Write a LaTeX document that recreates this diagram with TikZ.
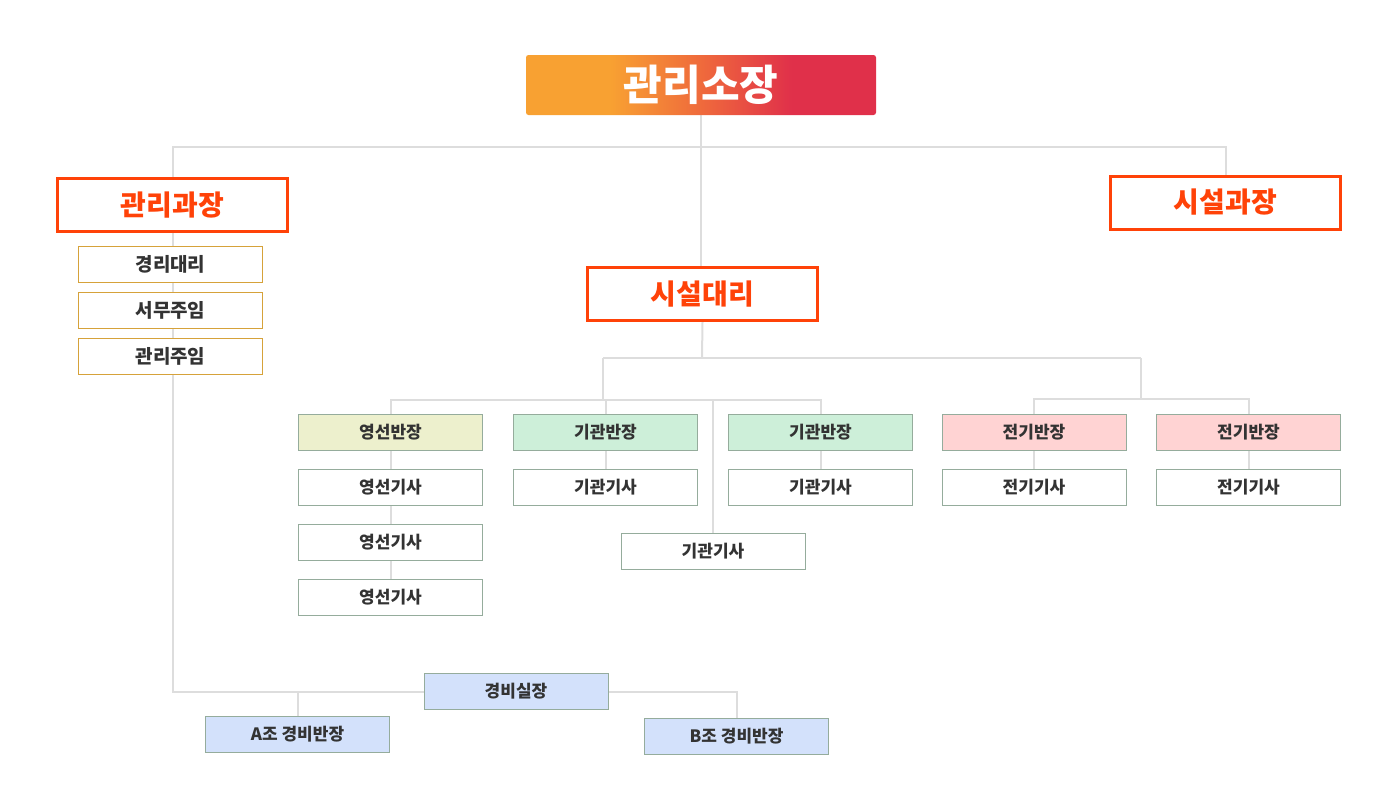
\documentclass[tikz,border=0pt]{standalone}
\usepackage{fontspec}
\setmainfont{Noto Sans CJK KR}
\usetikzlibrary{backgrounds}
\definecolor{gOrange}{HTML}{F8A132}
\definecolor{gMid}{HTML}{EF6A3C}
\definecolor{gRed}{HTML}{E0304A}
\definecolor{hdRed}{HTML}{FF4208}
\definecolor{lineGray}{HTML}{DDDDDD}
\definecolor{boxEdge}{HTML}{95AC9C}
\definecolor{goldEdge}{HTML}{D6A23A}
\definecolor{txtDark}{HTML}{333333}
\definecolor{fillYel}{HTML}{EDF0CD}
\definecolor{fillGrn}{HTML}{CDEFD9}
\definecolor{fillPnk}{HTML}{FFD3D3}
\definecolor{fillBlu}{HTML}{D3E1FB}
\pgfdeclarehorizontalshading{titlegrad}{100bp}{color(0bp)=(gOrange); color(37bp)=(gOrange); color(50bp)=(gMid); color(63bp)=(gRed); color(100bp)=(gRed)}
\tikzset{
  titlebox/.style={shading=titlegrad, rounded corners=2.5pt, minimum width=350pt, minimum height=60pt, inner sep=0pt, text=white, font=\fontsize{42}{46}\selectfont\bfseries},
  headbox/.style={draw=hdRed, line width=3pt, fill=white, minimum width=230pt, minimum height=53pt, inner sep=0pt, text=hdRed, font=\fontsize{28}{32}\selectfont\bfseries},
  goldbox/.style={draw=goldEdge, line width=1pt, fill=white, minimum width=184pt, minimum height=36pt, inner sep=0pt, text=txtDark, font=\fontsize{19}{22}\selectfont\bfseries},
  unitbox/.style={draw=boxEdge, line width=1pt, fill=white, minimum width=184pt, minimum height=36pt, inner sep=0pt, text=txtDark, font=\fontsize{17}{20}\selectfont\bfseries},
  link/.style={draw=lineGray, line width=2pt},
  biglink/.style={draw=lineGray, line width=2.5pt}
}
\begin{document}
\begin{tikzpicture}[x=1pt,y=-1pt]
\useasboundingbox (0,0) rectangle (1400,804);
% top
\node[titlebox] (top) at (701,85) {관리소장};
\node[headbox] (gk) at (172.5,205) {관리과장};
\node[headbox] (sk) at (1225.5,202.5) {시설과장};
\node[headbox] (sd) at (702.5,294) {시설대리};
% management column
\node[goldbox] (m1) at (170.5,264.5) {경리대리};
\node[goldbox] (m2) at (170.5,310.5) {서무주임};
\node[goldbox] (m3) at (170.5,356.5) {관리주임};
% facility teams
\node[unitbox, fill=fillYel] (ys) at (390.5,432.5) {영선반장};
\node[unitbox] (yg1) at (390.5,487.5) {영선기사};
\node[unitbox] (yg2) at (390.5,542.5) {영선기사};
\node[unitbox] (yg3) at (390.5,597.5) {영선기사};
\node[unitbox, fill=fillGrn] (kb1) at (605.5,432.5) {기관반장};
\node[unitbox] (kg1) at (605.5,487.5) {기관기사};
\node[unitbox, fill=fillGrn] (kb2) at (820.5,432.5) {기관반장};
\node[unitbox] (kg2) at (820.5,487.5) {기관기사};
\node[unitbox] (kmid) at (713,551) {기관기사};
\node[unitbox, fill=fillPnk] (eb1) at (1034,432.5) {전기반장};
\node[unitbox] (eg1) at (1034,487.5) {전기기사};
\node[unitbox, fill=fillPnk] (eb2) at (1248.5,432.5) {전기반장};
\node[unitbox] (eg2) at (1248.5,487.5) {전기기사};
% security
\node[unitbox, fill=fillBlu] (gb) at (516,691.5) {경비실장};
\node[unitbox, fill=fillBlu] (ga) at (297.5,734.5) {A조 경비반장};
\node[unitbox, fill=fillBlu] (gbb) at (736.5,736.5) {B조 경비반장};
% junctions
\coordinate (j1) at (701,147);
\coordinate (j2) at (702,358);
\coordinate (j3) at (603,358);
\coordinate (j4) at (1141,358);
\coordinate (j5) at (603,400);
\coordinate (j6) at (1141,399);
\begin{pgfonlayer}{background}
\path[link] (top.south) -- (top.south |- sd.north);
\path[link] (gk.north) |- (j1) -| (sk.north);
\path[link] (gk.south) |- (gb.west);
\path[link] (gb.east) -| (gbb.north);
\path[link] (ga.north) -- (ga.north |- gb.west);
\path[link] (sd.south) -- (j2);
\path[biglink] (j3) -- (j4);
\path[link] (j3) -- (j5);
\path[link] (ys.north) |- (j5) -| (kb2.north);
\path[link] (kb1.north) -- (kb1.north |- j5);
\path[link] (kmid.north) -- (kmid.north |- j5);
\path[link] (j4) -- (j6);
\path[link] (eb1.north) |- (j6) -| (eb2.north);
\path[link] (ys.south) -- (yg1.north);
\path[link] (yg1.south) -- (yg2.north);
\path[link] (yg2.south) -- (yg3.north);
\path[link] (kb1.south) -- (kg1.north);
\path[link] (kb2.south) -- (kg2.north);
\path[link] (eb1.south) -- (eg1.north);
\path[link] (eb2.south) -- (eg2.north);
\end{pgfonlayer}
\end{tikzpicture}
\end{document}
